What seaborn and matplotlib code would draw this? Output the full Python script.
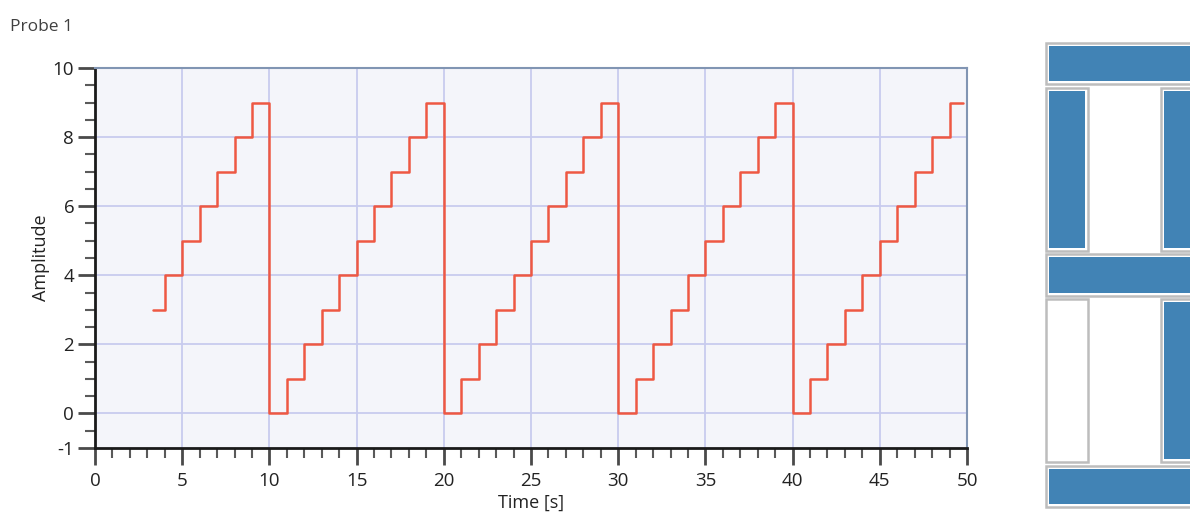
#!/usr/bin/env python3

import pandas as pd
import seaborn as sns
import matplotlib
matplotlib.use('Agg')
import matplotlib.pyplot as plt
from matplotlib.patches import Rectangle
from matplotlib.ticker import MultipleLocator, FixedLocator

# Probe signal (sample hold, one step per second)
step_times = [3.3, 4, 5, 6, 7, 8, 9,
              10, 11, 12, 13, 14, 15, 16, 17, 18, 19,
              20, 21, 22, 23, 24, 25, 26, 27, 28, 29,
              30, 31, 32, 33, 34, 35, 36, 37, 38, 39,
              40, 41, 42, 43, 44, 45, 46, 47, 48, 49,
              49.75]
amplitude = [3, 4, 5, 6, 7, 8, 9,
             0, 1, 2, 3, 4, 5, 6, 7, 8, 9,
             0, 1, 2, 3, 4, 5, 6, 7, 8, 9,
             0, 1, 2, 3, 4, 5, 6, 7, 8, 9,
             0, 1, 2, 3, 4, 5, 6, 7, 8, 9,
             9]

y_ticks = [-1, 0, 2, 4, 6, 8, 10]
x_ticks = [0, 5, 10, 15, 20, 25, 30, 35, 40, 45, 50]

# digit shown on the seven segment display (last value)
display_digit = amplitude[-1]

SEGMENTS = {
    0: 'abcdef', 1: 'bc', 2: 'abdeg', 3: 'abcdg', 4: 'bcfg',
    5: 'acdfg', 6: 'acdefg', 7: 'abc', 8: 'abcdefg', 9: 'abcdfg',
}

sns.set_theme(style="white")
plt.rcParams['font.family'] = ['Open Sans', 'DejaVu Sans']
plt.rcParams['axes.unicode_minus'] = False

df = pd.DataFrame({'time': step_times, 'amplitude': amplitude})

fig = plt.figure(figsize=(11.9, 5.17), dpi=100)
ax = fig.add_axes([95 / 1190, 69 / 517, 872 / 1190, 380 / 517])
ax.set_facecolor('#f4f5fa')

sns.lineplot(data=df, x='time', y='amplitude', ax=ax,
             drawstyle='steps-post', color='#ee5843', linewidth=1.8,
             estimator=None, sort=False, zorder=3)

ax.set_xlim(0, 50)
ax.set_ylim(-1, 10)
ax.xaxis.set_major_locator(FixedLocator(x_ticks))
ax.xaxis.set_minor_locator(MultipleLocator(1))
ax.yaxis.set_major_locator(FixedLocator(y_ticks))
ax.yaxis.set_minor_locator(MultipleLocator(0.5))

for v in x_ticks[1:-1]:
    ax.axvline(v, color='#c8cbee', linewidth=1.3, zorder=1)
for v in y_ticks[1:-1]:
    ax.axhline(v, color='#c8cbee', linewidth=1.3, zorder=1)

ax.tick_params(axis='both', which='major', direction='out', length=12,
               width=2, color='#4a4a4a', labelsize=13.5,
               labelcolor='#222222', pad=3)
ax.tick_params(axis='both', which='minor', direction='out', length=7,
               width=1.5, color='#5a5a5a')
ax.tick_params(axis='x', which='major', pad=5)
ax.tick_params(axis='both', which='both', bottom=True, left=True)

for side in ['left', 'bottom']:
    ax.spines[side].set_color('#1a1a1a')
    ax.spines[side].set_linewidth(2)
for side in ['top', 'right']:
    ax.spines[side].set_color('#8195b3')
    ax.spines[side].set_linewidth(1.5)

ax.set_xlabel('Time [s]', fontsize=13, color='#222222', labelpad=3)
ax.set_ylabel('Amplitude', fontsize=13, color='#222222', labelpad=2)

fig.text(10 / 1190, 1 - 31 / 517, 'Probe 1', fontsize=12.5,
         color='#404040', ha='left', va='baseline')

# Seven segment display on the right, drawn in pixel coordinates
seg = fig.add_axes([0, 0, 1, 1])
seg.set_xlim(0, 1190)
seg.set_ylim(517, 0)
seg.axis('off')
seg.patch.set_alpha(0)

x0, x1 = 1046, 1203
w = 42
layout = {
    'a': (x0, 43, x1 - x0, 41),
    'f': (x0, 88, w, 163),
    'b': (x1 - w, 88, w, 163),
    'g': (x0, 254, x1 - x0, 42),
    'e': (x0, 299, w, 163),
    'c': (x1 - w, 299, w, 163),
    'd': (x0, 466, x1 - x0, 41),
}
lit = SEGMENTS[display_digit]
for name, (x, y, wd, ht) in layout.items():
    seg.add_patch(Rectangle((x, y), wd, ht, facecolor='white',
                            edgecolor='#bdbdbd', linewidth=1.8))
    if name in lit:
        seg.add_patch(Rectangle((x + 3, y + 3), wd - 6, ht - 6,
                                facecolor='#4183b5', edgecolor='none'))

plt.savefig('out.png', dpi=100)
